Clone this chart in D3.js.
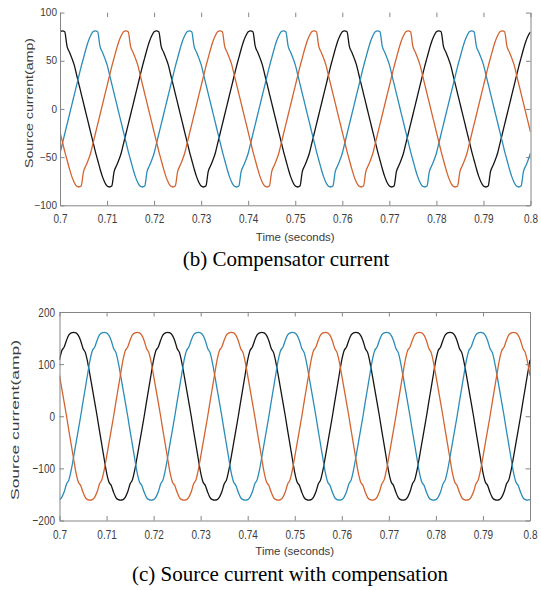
<!DOCTYPE html>
<html><head><meta charset="utf-8">
<script src="https://cdn.jsdelivr.net/npm/d3@7/dist/d3.min.js"></script>
<style>body{margin:0;background:#fff}svg{display:block}</style>
</head><body>
<svg id="chart" width="541" height="590"></svg>
<script>
// ---- data ----
const timeStart = 0.7;
const timeStep = 0.0005;
const xTickValues = [0.7,0.71,0.72,0.73,0.74,0.75,0.76,0.77,0.78,0.79,0.8];
const xTickLabels = ["0.7","0.71","0.72","0.73","0.74","0.75","0.76","0.77","0.78","0.79","0.8"];
const compYTicks = [-100,-50,0,50,100];
const srcYTicks = [-200,-100,0,100,200];
const xLabel = "Time (seconds)";
const yLabel = "Source current(amp)";
const captions = ["(b) Compensator current","(c) Source current with compensation"];

// (b) compensator current, phases a (black), b (blue), c (orange)
const compBlack = [80,
81,80,65,59,53,46,36,26,16,6,-4,-14,-24,-34,-44,-53,-62,-70,-76,-80,-81,-80,-65,-59,-53,-46,-36,-26,-16,-6,4,14,24,34,44,53,62,70,76,80,
81,80,65,59,53,46,36,26,16,6,-4,-14,-24,-34,-44,-53,-62,-70,-76,-80,-81,-80,-65,-59,-53,-46,-36,-26,-16,-6,4,14,24,34,44,53,62,70,76,80,
81,80,65,59,53,46,36,26,16,6,-4,-14,-24,-34,-44,-53,-62,-70,-76,-80,-81,-80,-65,-59,-53,-46,-36,-26,-16,-6,4,14,24,34,44,53,62,70,76,80,
81,80,65,59,53,46,36,26,16,6,-4,-14,-24,-34,-44,-53,-62,-70,-76,-80,-81,-80,-65,-59,-53,-46,-36,-26,-16,-6,4,14,24,34,44,53,62,70,76,80,
81,80,65,59,53,46,36,26,16,6,-4,-14,-24,-34,-44,-53,-62,-70,-76,-80,-81,-80,-65,-59,-53,-46,-36,-26,-16,-6,4,14,24,34,44,53,62,70,76,80];
const compBlue = [-46,-36,-26,-16,-6,4,14,24,34,44,53,62,70,76,80,
81,80,65,59,53,46,36,26,16,6,-4,-14,-24,-34,-44,-53,-62,-70,-76,-80,-81,-80,-65,-59,-53,-46,-36,-26,-16,-6,4,14,24,34,44,53,62,70,76,80,
81,80,65,59,53,46,36,26,16,6,-4,-14,-24,-34,-44,-53,-62,-70,-76,-80,-81,-80,-65,-59,-53,-46,-36,-26,-16,-6,4,14,24,34,44,53,62,70,76,80,
81,80,65,59,53,46,36,26,16,6,-4,-14,-24,-34,-44,-53,-62,-70,-76,-80,-81,-80,-65,-59,-53,-46,-36,-26,-16,-6,4,14,24,34,44,53,62,70,76,80,
81,80,65,59,53,46,36,26,16,6,-4,-14,-24,-34,-44,-53,-62,-70,-76,-80,-81,-80,-65,-59,-53,-46,-36,-26,-16,-6,4,14,24,34,44,53,62,70,76,80,
81,80,65,59,53,46,36,26,16,6,-4,-14,-24,-34,-44,-53,-62,-70,-76,-80,-81,-80,-65,-59,-53,-46];
const compOrange = [-24,-34,-44,-53,-62,-70,-76,-80,-81,-80,-65,-59,-53,-46,-36,-26,-16,-6,4,14,24,34,44,53,62,70,76,80,
81,80,65,59,53,46,36,26,16,6,-4,-14,-24,-34,-44,-53,-62,-70,-76,-80,-81,-80,-65,-59,-53,-46,-36,-26,-16,-6,4,14,24,34,44,53,62,70,76,80,
81,80,65,59,53,46,36,26,16,6,-4,-14,-24,-34,-44,-53,-62,-70,-76,-80,-81,-80,-65,-59,-53,-46,-36,-26,-16,-6,4,14,24,34,44,53,62,70,76,80,
81,80,65,59,53,46,36,26,16,6,-4,-14,-24,-34,-44,-53,-62,-70,-76,-80,-81,-80,-65,-59,-53,-46,-36,-26,-16,-6,4,14,24,34,44,53,62,70,76,80,
81,80,65,59,53,46,36,26,16,6,-4,-14,-24,-34,-44,-53,-62,-70,-76,-80,-81,-80,-65,-59,-53,-46,-36,-26,-16,-6,4,14,24,34,44,53,62,70,76,80,
81,80,65,59,53,46,36,26,16,6,-4,-14,-24];

// (c) source current with compensation
const srcBlack = [108,126,133,146,156,160,
161,160,155,145,130,122,103,78,52,26,0,-28,-55,-82,-108,-126,-133,-146,-156,-160,-161,-160,-155,-145,-130,-122,-103,-78,-52,-26,0,28,55,82,108,126,133,146,156,160,
161,160,155,145,130,122,103,78,52,26,0,-28,-55,-82,-108,-126,-133,-146,-156,-160,-161,-160,-155,-145,-130,-122,-103,-78,-52,-26,0,28,55,82,108,126,133,146,156,160,
161,160,155,145,130,122,103,78,52,26,0,-28,-55,-82,-108,-126,-133,-146,-156,-160,-161,-160,-155,-145,-130,-122,-103,-78,-52,-26,0,28,55,82,108,126,133,146,156,160,
161,160,155,145,130,122,103,78,52,26,0,-28,-55,-82,-108,-126,-133,-146,-156,-160,-161,-160,-155,-145,-130,-122,-103,-78,-52,-26,0,28,55,82,108,126,133,146,156,160,
161,160,155,145,130,122,103,78,52,26,0,-28,-55,-82,-108,-126,-133,-146,-156,-160,-161,-160,-155,-145,-130,-122,-103,-78,-52,-26,0,28,55,82,108];
const srcBlue = [-160,-155,-145,-130,-122,-103,-78,-52,-26,0,28,55,82,108,126,133,146,156,160,
161,160,155,145,130,122,103,78,52,26,0,-28,-55,-82,-108,-126,-133,-146,-156,-160,-161,-160,-155,-145,-130,-122,-103,-78,-52,-26,0,28,55,82,108,126,133,146,156,160,
161,160,155,145,130,122,103,78,52,26,0,-28,-55,-82,-108,-126,-133,-146,-156,-160,-161,-160,-155,-145,-130,-122,-103,-78,-52,-26,0,28,55,82,108,126,133,146,156,160,
161,160,155,145,130,122,103,78,52,26,0,-28,-55,-82,-108,-126,-133,-146,-156,-160,-161,-160,-155,-145,-130,-122,-103,-78,-52,-26,0,28,55,82,108,126,133,146,156,160,
161,160,155,145,130,122,103,78,52,26,0,-28,-55,-82,-108,-126,-133,-146,-156,-160,-161,-160,-155,-145,-130,-122,-103,-78,-52,-26,0,28,55,82,108,126,133,146,156,160,
161,160,155,145,130,122,103,78,52,26,0,-28,-55,-82,-108,-126,-133,-146,-156,-160,-161,-160];
const srcOrange = [78,52,26,0,-28,-55,-82,-108,-126,-133,-146,-156,-160,-161,-160,-155,-145,-130,-122,-103,-78,-52,-26,0,28,55,82,108,126,133,146,156,160,
161,160,155,145,130,122,103,78,52,26,0,-28,-55,-82,-108,-126,-133,-146,-156,-160,-161,-160,-155,-145,-130,-122,-103,-78,-52,-26,0,28,55,82,108,126,133,146,156,160,
161,160,155,145,130,122,103,78,52,26,0,-28,-55,-82,-108,-126,-133,-146,-156,-160,-161,-160,-155,-145,-130,-122,-103,-78,-52,-26,0,28,55,82,108,126,133,146,156,160,
161,160,155,145,130,122,103,78,52,26,0,-28,-55,-82,-108,-126,-133,-146,-156,-160,-161,-160,-155,-145,-130,-122,-103,-78,-52,-26,0,28,55,82,108,126,133,146,156,160,
161,160,155,145,130,122,103,78,52,26,0,-28,-55,-82,-108,-126,-133,-146,-156,-160,-161,-160,-155,-145,-130,-122,-103,-78,-52,-26,0,28,55,82,108,126,133,146,156,160,
161,160,155,145,130,122,103,78];

const seriesColors = ["#141414","#2a8cb8","#d4632f"];

// ---- drawing ----
const svg = d3.select("#chart");
const AXIS = "#858585", TXT = "#3c3c3c";

function panel(cfg){
  const x = d3.scaleLinear().domain([0.7,0.8]).range([cfg.left, cfg.right]);
  const y = d3.scaleLinear().domain(cfg.yDomain).range([cfg.bottom, cfg.top]);
  const g = svg.append("g");
  const clipId = "clip" + cfg.id;
  svg.append("clipPath").attr("id", clipId).append("rect")
    .attr("x", cfg.left).attr("y", cfg.top - 2)
    .attr("width", cfg.right - cfg.left).attr("height", cfg.bottom - cfg.top + 4);

  const line = d3.line().curve(d3.curveMonotoneX)
    .x((d,i) => x(timeStart + i * timeStep)).y(d => y(d));
  const lines = g.append("g").attr("clip-path", `url(#${clipId})`);
  cfg.series.forEach((s, k) => {
    lines.append("path").datum(s).attr("d", line)
      .attr("fill","none").attr("stroke", seriesColors[k])
      .attr("stroke-width",1.3).attr("stroke-linejoin","round");
  });

  // bottom axis
  const xb = g.append("g").attr("transform",`translate(0,${cfg.bottom})`)
    .call(d3.axisBottom(x).tickValues(xTickValues).tickFormat((d,i)=>xTickLabels[i])
      .tickSizeInner(-4.5).tickSizeOuter(0).tickPadding(8));
  xb.selectAll("text").attr("transform","scale(1,1.2)");
  // top ticks
  const xt = g.append("g").attr("transform",`translate(0,${cfg.top})`)
    .call(d3.axisTop(x).tickValues(xTickValues).tickFormat("").tickSizeInner(-4.5).tickSizeOuter(0));
  if (!cfg.topLine) xt.select(".domain").remove();
  // left axis
  const yl = g.append("g").attr("transform",`translate(${cfg.left},0)`)
    .call(d3.axisLeft(y).tickValues(cfg.yTicks).tickSizeInner(-4.5).tickSizeOuter(0).tickPadding(cfg.yPad));
  yl.selectAll("text").attr("transform",`scale(1,${cfg.yStretch})`);
  // right axis
  g.append("g").attr("transform",`translate(${cfg.right},0)`)
    .call(d3.axisRight(y).tickValues(cfg.yTicks).tickFormat("").tickSizeInner(-4.5).tickSizeOuter(0));

  g.selectAll(".domain").attr("stroke", AXIS).attr("stroke-width",1);
  g.selectAll(".tick line").attr("stroke", AXIS).attr("stroke-width",1);
  g.selectAll(".tick text").attr("fill", TXT)
    .style("font-family","'Liberation Sans', Arial, sans-serif").style("font-size","10px");

  g.append("text").attr("x", (cfg.left+cfg.right)/2).attr("y", cfg.xLabelY)
    .attr("text-anchor","middle").attr("fill",TXT)
    .style("font-family","'Liberation Sans', Arial, sans-serif").style("font-size","11.5px")
    .text(xLabel);

  g.append("text")
    .attr("transform",`translate(${cfg.yLabelX},${cfg.yLabelY}) rotate(-90)`)
    .attr("text-anchor","middle").attr("dy","0.35em").attr("fill",TXT)
    .attr("textLength", cfg.yLabelLen).attr("lengthAdjust","spacingAndGlyphs")
    .style("font-family","'Liberation Sans', Arial, sans-serif").style("font-size","11.5px")
    .text(yLabel);

  g.append("text").attr("x", cfg.capX).attr("y", cfg.capY)
    .attr("text-anchor","middle").attr("fill","#000")
    .style("font-family","'Liberation Serif','Times New Roman',serif").style("font-size","21px")
    .text(cfg.caption);
}

panel({id:1, left:60, right:530.5, top:12.6, bottom:205.3, yDomain:[-100,100], yTicks:compYTicks,
  series:[compBlack, compBlue, compOrange], topLine:false, yPad:3, yStretch:1,
  xLabelY:241, yLabelX:28.5, yLabelY:103, yLabelLen:130, capX:286, capY:266, caption:captions[0]});

panel({id:2, left:59.5, right:530, top:312, bottom:520.5, yDomain:[-200,200], yTicks:srcYTicks,
  series:[srcBlack, srcBlue, srcOrange], topLine:true, yPad:4.5, yStretch:1.35,
  xLabelY:555, yLabelX:14.5, yLabelY:420, yLabelLen:160, capX:290, capY:581, caption:captions[1]});
</script>
</body></html>
